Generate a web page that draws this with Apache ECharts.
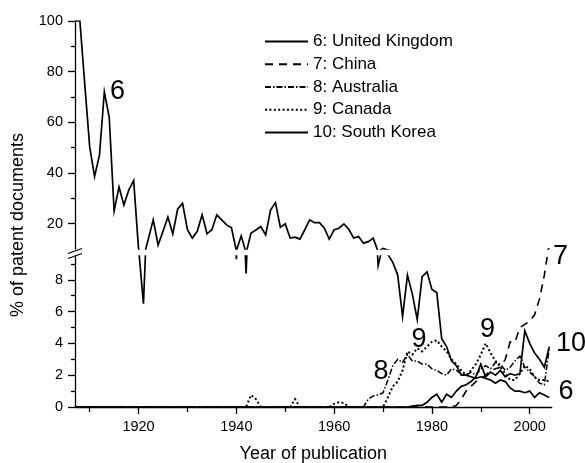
<!DOCTYPE html>
<html>
<head>
<meta charset="utf-8">
<script src="https://cdn.jsdelivr.net/npm/echarts@6/dist/echarts.min.js"></script>
<style>html,body{margin:0;padding:0;background:#fff}#c{width:585px;height:463px}</style>
</head>
<body>
<div id="c"></div>
<script>
const years = [
1907,1908,1909,1910,1911,1912,1913,1914,1915,1916,
1917,1918,1919,1920,1921,1922,1923,1924,1925,1926,
1927,1928,1929,1930,1931,1932,1933,1934,1935,1936,
1937,1938,1939,1940,1941,1942,1943,1944,1945,1946,
1947,1948,1949,1950,1951,1952,1953,1954,1955,1956,
1957,1958,1959,1960,1961,1962,1963,1964,1965,1966,
1967,1968,1969,1970,1971,1972,1973,1974,1975,1976,
1977,1978,1979,1980,1981,1982,1983,1984,1985,1986,
1987,1988,1989,1990,1991,1992,1993,1994,1995,1996,
1997,1998,1999,2000,2001,2002,2003,2004];

const unitedKingdom = [
100,100,75,50.4,38.6,47,72,62,25,34.5,
27.4,33.3,37,10,6.5,14,21.5,11.6,17,22.6,
16,25.8,28,17.6,14.3,17,23.5,16,17.6,23.5,
21.5,19.5,18.4,9.3,15.2,8.4,16.3,17.5,18.9,15.6,
25.4,28.3,18.6,19.9,14.3,14.7,13.9,17.6,21.5,20.4,
20.4,18.2,13.9,17.6,18.2,19.9,17.8,14.3,14.9,12.3,
12.9,14.3,8.9,10.2,9.6,9.1,8.3,5.7,8.3,7.1,
5.5,8.2,8.5,7.4,7.2,4.3,3.8,2.9,2.6,2.0,
2.0,1.9,1.8,1.9,1.8,1.7,1.5,1.7,1.6,1.2,
1.0,1.0,0.9,1.0,0.6,0.9,0.75,0.6];

const china = [
0,0,0,0,0,0,0,0,0,0,
0,0,0,0,0,0,0,0,0,0,
0,0,0,0,0,0,0,0,0,0,
0,0,0,0,0,0,0,0,0,0,
0,0,0,0,0,0,0,0,0,0,
0,0,0,0,0,0,0,0,0,0,
0,0,0,0,0,0,0,0,0,0,
0,0,0,0,0,0,0,0,0.1,0.5,
1.0,1.3,1.6,1.8,2.0,2.3,2.4,2.5,3.0,4.1,
4.1,5.0,5.2,5.4,5.8,6.8,8.3,10.3];

const australia = [
0,0,0,0,0,0,0,0,0,0,
0,0,0,0,0,0,0,0,0,0,
0,0,0,0,0,0,0,0,0,0,
0,0,0,0,0,0,0,0,0,0,
0,0,0,0,0,0,0,0,0,0,
0,0,0,0,0,0,0,0,0,0,
0.5,0.7,0.75,0.9,1.7,2.6,3.0,2.8,3.3,2.9,
2.9,2.7,2.7,2.4,2.3,2.1,2.0,2.4,2.3,2.1,
2.0,2.2,2.0,2.4,2.6,2.4,2.8,2.7,2.3,2.5,
2.9,3.2,2.5,2.2,1.9,1.5,1.4,3.7];

const canada = [
0,0,0,0,0,0,0,0,0,0,
0,0,0,0,0,0,0,0,0,0,
0,0,0,0,0,0,0,0,0,0,
0,0,0,0,0,0,0.75,0.5,0,0,
0,0,0,0,0,0.5,0,0,0,0,
0,0,0,0.2,0.3,0.25,0,0,0,0,
0,0,0,0,0.6,1.3,1.6,2.3,3.5,3.3,
3.7,3.5,3.8,4.1,4.2,3.8,3.5,3.0,2.7,2.3,
2.0,2.3,2.7,3.3,4.0,3.4,2.9,2.5,2.1,1.7,
1.7,2.1,2.6,2.4,1.9,1.7,1.7,1.6];

const southKorea = [
0,0,0,0,0,0,0,0,0,0,
0,0,0,0,0,0,0,0,0,0,
0,0,0,0,0,0,0,0,0,0,
0,0,0,0,0,0,0,0,0,0,
0,0,0,0,0,0,0,0,0,0,
0,0,0,0,0,0,0,0,0,0,
0,0,0,0,0,0,0,0,0,0.05,
0.1,0.1,0.3,0.6,0.8,0.3,0.8,0.6,1.0,1.3,
1.4,1.6,1.9,2.7,1.9,2.2,2.0,2.3,1.9,2.1,
2.0,2.1,4.8,4.0,3.4,3.0,2.5,3.8];

const seriesNames = ['6: United Kingdom','7: China','8: Australia','9: Canada','10: South Korea'];
const xMajorTicks = [1920,1940,1960,1980,2000];
const xMinorTicks = [1910,1930,1950,1970,1990];
const upperMajor = [20,40,60,80,100];
const upperMinor = [30,50,70,90];
const lowerMajor = [0,2,4,6,8];
const lowerMinor = [1,3,5,7,9];
const curveLabels = [
  {t:'6', x:117.5, y:92},
  {t:'7', x:560.5, y:257},
  {t:'9', x:419, y:340},
  {t:'9', x:487.5, y:330},
  {t:'8', x:381, y:372},
  {t:'10', x:571, y:343.5},
  {t:'6', x:566, y:392}
];

const FONT = 'Liberation Sans, Arial, sans-serif';
const styles = [
  {type:'solid', width:1.7},
  {type:[8,6], width:1.6},
  {type:[6,2,1.5,2], width:1.5},
  {type:[2,2.4], width:2},
  {type:'solid', width:1.7}
];
const dataSets = [unitedKingdom, china, australia, canada, southKorea];

const series = [];
dataSets.forEach((arr, k) => {
  const pts = years.map((y, i) => [y, arr[i]]);
  [[0,0],[1,2]].forEach(([xi, yi]) => {
    series.push({
      name: seriesNames[k], type: 'line', xAxisIndex: xi, yAxisIndex: yi,
      data: pts, symbol: 'none', showSymbol:false, animation: false, clip: true,
      lineStyle: {color:'#000', width: styles[k].width, type: styles[k].type, cap:'butt', join:'miter'},
      itemStyle: {color:'rgba(0,0,0,0)', borderWidth:0}, z: 5 - k
    });
  });
});

const tickStyle = {color:'#000', width:1.3};
const chart = echarts.init(document.getElementById('c'), null, {renderer:'canvas'});
chart.setOption({
  backgroundColor: '#fff',
  animation: false,
  grid: [
    {left:75, right:33.3, top:21, height:228},
    {left:75, right:33.3, top:256, height:151}
  ],
  xAxis: [
    {gridIndex:0, type:'value', min:1907, max:2004.5, show:false},
    {gridIndex:1, type:'value', position:'bottom', min:1907, max:2004.5,
      axisLine:{show:true, onZero:false, lineStyle:tickStyle}, splitLine:{show:false},
      axisTick:{show:true, customValues:xMajorTicks, length:7, lineStyle:tickStyle},
      axisLabel:{show:true, customValues:xMajorTicks, margin:12, fontSize:14.5, color:'#000', fontFamily:FONT, formatter:v=>String(v)}},
    {gridIndex:1, type:'value', position:'bottom', offset:0, min:1907, max:2004.5,
      axisLine:{show:false, onZero:false}, splitLine:{show:false},
      axisTick:{show:true, customValues:xMinorTicks, length:5, lineStyle:tickStyle},
      axisLabel:{show:false}}
  ],
  yAxis: [
    {gridIndex:0, type:'value', position:'left', min:10, max:100,
      axisLine:{show:true, onZero:false, lineStyle:tickStyle}, splitLine:{show:false},
      axisTick:{show:true, customValues:upperMajor, length:7, lineStyle:tickStyle},
      axisLabel:{show:true, customValues:upperMajor, margin:12, fontSize:14.5, color:'#000', fontFamily:FONT}},
    {gridIndex:0, type:'value', position:'left', offset:0, min:10, max:100,
      axisLine:{show:false, onZero:false}, splitLine:{show:false},
      axisTick:{show:true, customValues:upperMinor, length:4, lineStyle:tickStyle},
      axisLabel:{show:false}},
    {gridIndex:1, type:'value', position:'left', min:0, max:9.5,
      axisLine:{show:true, onZero:false, lineStyle:tickStyle}, splitLine:{show:false},
      axisTick:{show:true, customValues:lowerMajor, length:7, lineStyle:tickStyle},
      axisLabel:{show:true, customValues:lowerMajor, margin:12, fontSize:14.5, color:'#000', fontFamily:FONT}},
    {gridIndex:1, type:'value', position:'left', offset:0, min:0, max:9.5,
      axisLine:{show:false, onZero:false}, splitLine:{show:false},
      axisTick:{show:true, customValues:lowerMinor, length:4, lineStyle:tickStyle},
      axisLabel:{show:false}}
  ],
  legend: {
    data: seriesNames, orient:'vertical', left:264, top:33, padding:0,
    itemWidth:43, itemHeight:12, itemGap:5.75,
    itemStyle:{color:'rgba(0,0,0,0)', borderWidth:0, opacity:0},
    textStyle:{fontSize:17, color:'#000', fontFamily:FONT},
    selectedMode:false
  },
  graphic: [
    {type:'line', shape:{x1:68, y1:253.5, x2:82, y2:248.5}, style:{stroke:'#000', lineWidth:1.3}, z:10},
    {type:'line', shape:{x1:68, y1:258.5, x2:82, y2:253.5}, style:{stroke:'#000', lineWidth:1.3}, z:10},
    {type:'text', x:313.3, y:454, style:{text:'Year of publication', fontSize:18, fontFamily:FONT, fill:'#000', textAlign:'center', textVerticalAlign:'middle'}},
    {type:'text', x:18.3, y:225, rotation:Math.PI/2, style:{text:'% of patent documents', fontSize:18, fontFamily:FONT, fill:'#000', textAlign:'center', textVerticalAlign:'middle'}}
  ].concat(curveLabels.map(l => ({
    type:'text', x:l.x, y:l.y, style:{text:l.t, fontSize:27, fontFamily:FONT, fill:'#000', textAlign:'center', textVerticalAlign:'middle'}, z:10
  }))),
  series: series
});
</script>
</body>
</html>
